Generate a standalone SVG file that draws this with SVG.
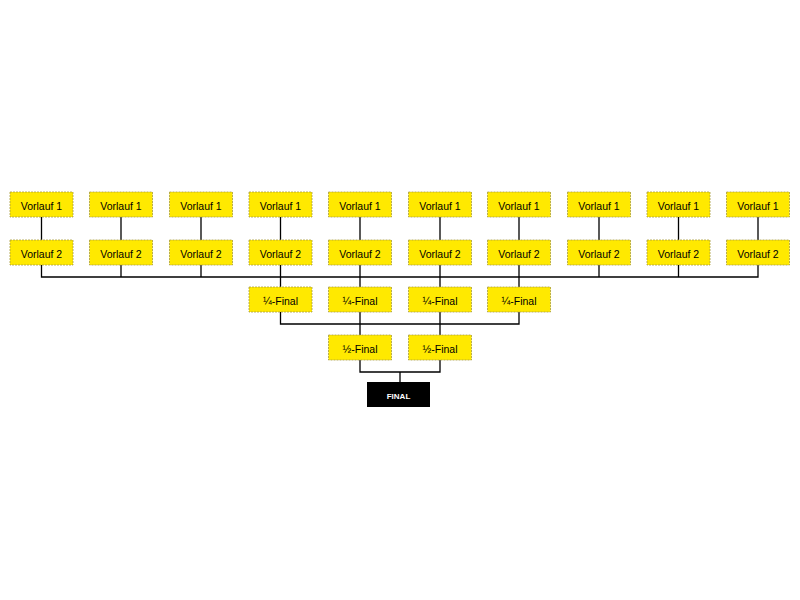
<svg xmlns="http://www.w3.org/2000/svg" width="800" height="600" viewBox="0 0 800 600">
<style>
.b{fill:#FFE900;stroke:#A89C3C;stroke-width:0.8;stroke-dasharray:2,1}
.t{font-family:"Liberation Sans",Arial,sans-serif;font-size:10.5px;fill:#000;text-anchor:middle}
.f{fill:#000}
.ft{font-family:"Liberation Sans",Arial,sans-serif;font-size:8px;font-weight:bold;fill:#fff;text-anchor:middle}
.c{fill:none;stroke:#000;stroke-width:1.3}
</style>
<rect width="800" height="600" fill="#fff"/>
<g id="connectors">
<path class="c" d="M41.5 217V240M121 217V240M201 217V240M280.5 217V240M360 217V240M440 217V240M519 217V240M599 217V240M678.5 217V240M758 217V240"/>
<path class="c" d="M41.5 265V277H758V265M121 265V277M201 265V277M280.5 265V287M360 265V287M440 265V287M519 265V287M599 265V277M678.5 265V277"/>
<path class="c" d="M280.5 312V324H519V312M360 312V335M440 312V335"/>
<path class="c" d="M360 360V372H440V360M400 372V382"/>
</g>
<g id="v1-1"><rect class="b" x="10" y="192" width="63" height="25"/><text class="t" x="41.5" y="209.5">Vorlauf 1</text></g>
<g id="v1-2"><rect class="b" x="89.5" y="192" width="63" height="25"/><text class="t" x="121" y="209.5">Vorlauf 1</text></g>
<g id="v1-3"><rect class="b" x="169.5" y="192" width="63" height="25"/><text class="t" x="201" y="209.5">Vorlauf 1</text></g>
<g id="v1-4"><rect class="b" x="249" y="192" width="63" height="25"/><text class="t" x="280.5" y="209.5">Vorlauf 1</text></g>
<g id="v1-5"><rect class="b" x="328.5" y="192" width="63" height="25"/><text class="t" x="360" y="209.5">Vorlauf 1</text></g>
<g id="v1-6"><rect class="b" x="408.5" y="192" width="63" height="25"/><text class="t" x="440" y="209.5">Vorlauf 1</text></g>
<g id="v1-7"><rect class="b" x="487.5" y="192" width="63" height="25"/><text class="t" x="519" y="209.5">Vorlauf 1</text></g>
<g id="v1-8"><rect class="b" x="567.5" y="192" width="63" height="25"/><text class="t" x="599" y="209.5">Vorlauf 1</text></g>
<g id="v1-9"><rect class="b" x="647" y="192" width="63" height="25"/><text class="t" x="678.5" y="209.5">Vorlauf 1</text></g>
<g id="v1-10"><rect class="b" x="726.5" y="192" width="63" height="25"/><text class="t" x="758" y="209.5">Vorlauf 1</text></g>
<g id="v2-1"><rect class="b" x="10" y="240" width="63" height="25"/><text class="t" x="41.5" y="257.5">Vorlauf 2</text></g>
<g id="v2-2"><rect class="b" x="89.5" y="240" width="63" height="25"/><text class="t" x="121" y="257.5">Vorlauf 2</text></g>
<g id="v2-3"><rect class="b" x="169.5" y="240" width="63" height="25"/><text class="t" x="201" y="257.5">Vorlauf 2</text></g>
<g id="v2-4"><rect class="b" x="249" y="240" width="63" height="25"/><text class="t" x="280.5" y="257.5">Vorlauf 2</text></g>
<g id="v2-5"><rect class="b" x="328.5" y="240" width="63" height="25"/><text class="t" x="360" y="257.5">Vorlauf 2</text></g>
<g id="v2-6"><rect class="b" x="408.5" y="240" width="63" height="25"/><text class="t" x="440" y="257.5">Vorlauf 2</text></g>
<g id="v2-7"><rect class="b" x="487.5" y="240" width="63" height="25"/><text class="t" x="519" y="257.5">Vorlauf 2</text></g>
<g id="v2-8"><rect class="b" x="567.5" y="240" width="63" height="25"/><text class="t" x="599" y="257.5">Vorlauf 2</text></g>
<g id="v2-9"><rect class="b" x="647" y="240" width="63" height="25"/><text class="t" x="678.5" y="257.5">Vorlauf 2</text></g>
<g id="v2-10"><rect class="b" x="726.5" y="240" width="63" height="25"/><text class="t" x="758" y="257.5">Vorlauf 2</text></g>
<g id="q1"><rect class="b" x="249" y="287" width="63" height="25"/><text class="t" x="280.5" y="304.5">¼-Final</text></g>
<g id="q2"><rect class="b" x="328.5" y="287" width="63" height="25"/><text class="t" x="360" y="304.5">¼-Final</text></g>
<g id="q3"><rect class="b" x="408.5" y="287" width="63" height="25"/><text class="t" x="440" y="304.5">¼-Final</text></g>
<g id="q4"><rect class="b" x="487.5" y="287" width="63" height="25"/><text class="t" x="519" y="304.5">¼-Final</text></g>
<g id="s1"><rect class="b" x="328.5" y="335" width="63" height="25"/><text class="t" x="360" y="352.5">½-Final</text></g>
<g id="s2"><rect class="b" x="408.5" y="335" width="63" height="25"/><text class="t" x="440" y="352.5">½-Final</text></g>
<g id="final"><rect class="f" x="367" y="382" width="63" height="25"/><text class="ft" x="398.5" y="398.5">FINAL</text></g>
</svg>
